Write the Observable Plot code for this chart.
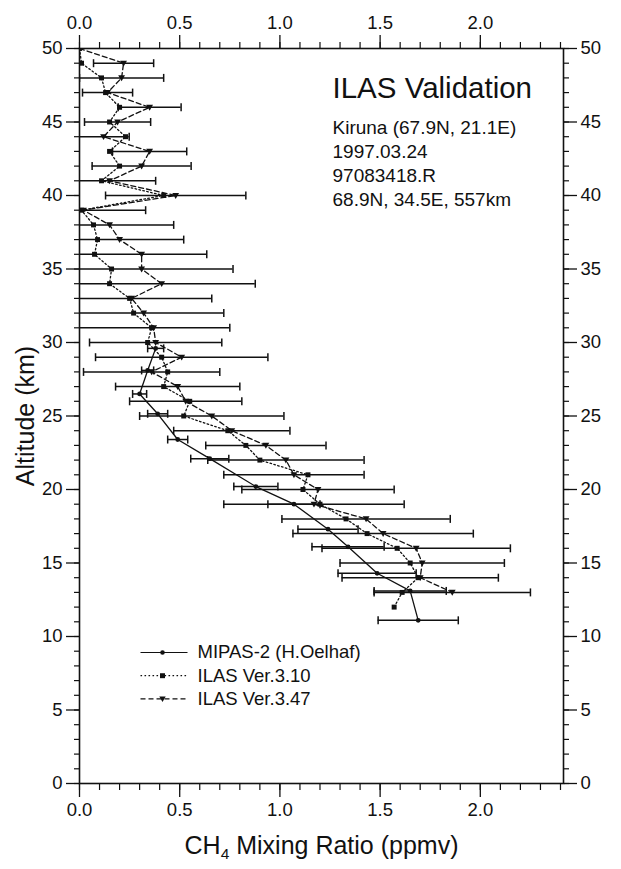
<!DOCTYPE html>
<html>
<head>
<meta charset="utf-8">
<script src="https://cdn.jsdelivr.net/npm/d3@7"></script>
<script src="https://cdn.jsdelivr.net/npm/@observablehq/plot@0.6"></script>
<style>
  html, body { margin: 0; padding: 0; background: #fff; }
  #chart svg { display: block; }
</style>
</head>
<body>
<div id="chart"></div>
<script>
// ILAS Ver.3.10 retrieval (km, ppmv)
const alt310 = d3.range(50, 11, -1);
const ch4_310 = [0.00, 0.01, 0.11, 0.13, 0.20, 0.15, 0.23, 0.15, 0.20, 0.11,
                 0.42, 0.01, 0.07, 0.09, 0.075, 0.16, 0.15, 0.25, 0.27, 0.36,
                 0.34, 0.41, 0.44, 0.42, 0.55, 0.52, 0.74, 0.83, 0.90, 1.14,
                 1.115, 1.20, 1.33, 1.435, 1.585, 1.65, 1.69, 1.61, 1.57];

// ILAS Ver.3.47 retrieval with its uncertainty
const alt347 = d3.range(50, 12, -1);
const ch4_347 = [0.00, 0.22, 0.21, 0.14, 0.35, 0.19, 0.12, 0.35, 0.31, 0.15,
                 0.48, 0.02, 0.15, 0.20, 0.31, 0.31, 0.41, 0.26, 0.32, 0.37,
                 0.38, 0.51, 0.36, 0.49, 0.53, 0.66, 0.76, 0.93, 1.03, 1.07,
                 1.19, 1.17, 1.43, 1.515, 1.68, 1.71, 1.70, 1.86];
const err347 = [null, 0.15, 0.21, 0.125, 0.157, 0.165, 0.128, 0.185, 0.247, 0.23,
                0.35, 0.31, 0.32, 0.32, 0.325, 0.456, 0.467, 0.40, 0.40, 0.38,
                0.33, 0.43, 0.34, 0.31, 0.28, 0.36, 0.29, 0.30, 0.39, 0.35,
                0.38, 0.45, 0.42, 0.45, 0.47, 0.41, 0.39, 0.39];

// MIPAS-2 balloon profile
const altMipas = [29.6, 28.1, 26.5, 25.15, 23.4, 22.1, 20.2, 19.0, 17.3, 16.1, 14.3, 13.1, 11.1];
const ch4Mipas = [0.38, 0.34, 0.30, 0.39, 0.49, 0.65, 0.88, 1.07, 1.24, 1.34, 1.485, 1.65, 1.69];
const errMipas = [0.04, 0.03, 0.035, 0.05, 0.05, 0.095, 0.11, 0.13, 0.15, 0.18, 0.195, 0.18, 0.20];

// Axis ticks
const xMajor = [0.0, 0.5, 1.0, 1.5, 2.0];
const yMajor = [0, 5, 10, 15, 20, 25, 30, 35, 40, 45, 50];

// Texts
const seriesNames = ["MIPAS-2 (H.Oelhaf)", "ILAS Ver.3.10", "ILAS Ver.3.47"];
const titleText = "ILAS Validation";
const infoLines = ["Kiruna (67.9N, 21.1E)", "1997.03.24", "97083418.R", "68.9N, 34.5E, 557km"];
const xLabel = "CH4 Mixing Ratio (ppmv)";
const yLabel = "Altitude (km)";

const v310 = alt310.map((a, i) => ({alt: a, v: ch4_310[i]}));
const v347 = alt347.map((a, i) => ({alt: a, v: ch4_347[i], e: err347[i]}));
const mipas = altMipas.map((a, i) => ({alt: a, v: ch4Mipas[i], e: errMipas[i]}));
const bars347 = v347.filter(d => d.e != null);

// Custom marker shapes
const vbar = {draw(ctx, size) { const r = Math.sqrt(size / Math.PI); ctx.moveTo(0, -r); ctx.lineTo(0, r); }};
const hbar = {draw(ctx, size) { const r = Math.sqrt(size / Math.PI); ctx.moveTo(-r, 0); ctx.lineTo(r, 0); }};
const triDown = {draw(ctx, size) {
  const r = Math.sqrt(size / Math.PI);
  ctx.moveTo(-r, -0.75 * r); ctx.lineTo(r, -0.75 * r); ctx.lineTo(0, r); ctx.closePath();
}};

const ink = "#111";
const dash310 = "1.6,2.4";
const dash347 = "5,3";

function errorBars(data) {
  return [
    Plot.ruleY(data, {y: "alt", x1: d => d.v - d.e, x2: d => d.v + d.e, stroke: ink, strokeWidth: 1.5, clip: true}),
    Plot.dot(data, {x: d => d.v - d.e, y: "alt", symbol: vbar, r: 4, stroke: ink, strokeWidth: 1.5, fill: "none", clip: true}),
    Plot.dot(data, {x: d => d.v + d.e, y: "alt", symbol: vbar, r: 4, stroke: ink, strokeWidth: 1.5, fill: "none", clip: true})
  ];
}

// Legend rows: line sample, marker, label
const legendStyles = [
  {dash: null, symbol: "circle", r: 2.3},
  {dash: dash310, symbol: "square", r: 2.8},
  {dash: dash347, symbol: triDown, r: 3.2}
];
const legendMarks = legendStyles.flatMap((s, i) => {
  const dy = -131 + i * 23.2;
  return [
    Plot.dot([seriesNames[i]], {frameAnchor: "bottom-left", dx: 84.5, dy, symbol: hbar, r: 23.5,
      stroke: ink, strokeWidth: 1.2, fill: "none", strokeDasharray: s.dash}),
    Plot.dot([seriesNames[i]], {frameAnchor: "bottom-left", dx: 83, dy, symbol: s.symbol, r: s.r, fill: ink, stroke: "none"}),
    Plot.text([seriesNames[i]], {frameAnchor: "bottom-left", dx: 118, dy, textAnchor: "start", lineAnchor: "middle",
      fontSize: 18.5, fill: ink})
  ];
});

const chart = Plot.plot({
  width: 621,
  height: 869,
  marginLeft: 79,
  marginRight: 58,
  marginTop: 48,
  marginBottom: 86,
  style: {fontFamily: "'Liberation Sans', Arial, Helvetica, sans-serif", fontSize: "18.5px", background: "#fff", color: ink},
  x: {domain: [0, 2.415]},
  y: {domain: [0, 50]},
  marks: [
    // axes on all four sides
    Plot.axisY({anchor: "left", ticks: yMajor, tickSize: 13, tickPadding: 4, label: null, strokeWidth: 1.3, fontSize: 18.5}),
    Plot.axisY({anchor: "left", ticks: d3.range(0, 51), tickSize: 5, tickFormat: () => "", label: null, strokeWidth: 1.2}),
    Plot.axisY({anchor: "right", ticks: yMajor, tickSize: 13, tickPadding: 4, label: null, strokeWidth: 1.3, fontSize: 18.5}),
    Plot.axisY({anchor: "right", ticks: d3.range(0, 51), tickSize: 5, tickFormat: () => "", label: null, strokeWidth: 1.2}),
    Plot.axisX({anchor: "top", ticks: xMajor, tickSize: 14, tickPadding: 6, tickFormat: d3.format(".1f"), label: null, strokeWidth: 1.3, fontSize: 18.5}),
    Plot.axisX({anchor: "top", ticks: d3.range(25).map(i => i / 10), tickSize: 7, tickFormat: () => "", label: null, strokeWidth: 1.2}),
    Plot.axisX({anchor: "bottom", ticks: xMajor, tickSize: 14, tickPadding: 5, tickFormat: d3.format(".1f"), label: null, strokeWidth: 1.3, fontSize: 18.5}),
    Plot.axisX({anchor: "bottom", ticks: d3.range(25).map(i => i / 10), tickSize: 7, tickFormat: () => "", label: null, strokeWidth: 1.2}),
    Plot.frame({stroke: ink, strokeWidth: 1.6}),

    // error bars
    ...errorBars(bars347),
    ...errorBars(mipas),

    // profiles
    Plot.line(v310, {x: "v", y: "alt", stroke: ink, strokeWidth: 1.3, strokeDasharray: dash310}),
    Plot.line(v347, {x: "v", y: "alt", stroke: ink, strokeWidth: 1.3, strokeDasharray: dash347}),
    Plot.line(mipas, {x: "v", y: "alt", stroke: ink, strokeWidth: 1.3}),

    // markers
    Plot.dot(v310, {x: "v", y: "alt", symbol: "square", r: 2.8, fill: ink, clip: true}),
    Plot.dot(v347, {x: "v", y: "alt", symbol: triDown, r: 3.4, fill: ink, clip: true}),
    Plot.dot(mipas, {x: "v", y: "alt", r: 2.4, fill: ink, clip: true}),

    // annotation block
    Plot.text([titleText], {frameAnchor: "top-left", dx: 253, dy: 29, textAnchor: "start", lineAnchor: "top", fontSize: 29.5, fill: ink}),
    Plot.text([infoLines.join("\n")], {frameAnchor: "top-left", dx: 253, dy: 69, textAnchor: "start", lineAnchor: "top",
      lineHeight: 1.25, fontSize: 19, fill: ink}),

    // legend
    ...legendMarks,

    // axis titles
    Plot.text([yLabel], {frameAnchor: "left", dx: -54, rotate: -90, textAnchor: "middle", lineAnchor: "middle", fontSize: 25, fill: ink}),
    Plot.text([xLabel], {frameAnchor: "bottom", dy: 62, textAnchor: "middle", lineAnchor: "middle", fontSize: 25, fill: ink})
  ]
});

// Chemical formula subscript in the x title
d3.select(chart).selectAll("text").filter(function() { return this.textContent === xLabel; }).each(function() {
  const t = d3.select(this);
  t.text("");
  t.append("tspan").text("CH");
  t.append("tspan").attr("font-size", "0.62em").attr("dy", "0.35em").text("4");
  t.append("tspan").attr("dy", "-0.217em").text(" Mixing Ratio (ppmv)");
});

document.getElementById("chart").append(chart);
</script>
</body>
</html>
